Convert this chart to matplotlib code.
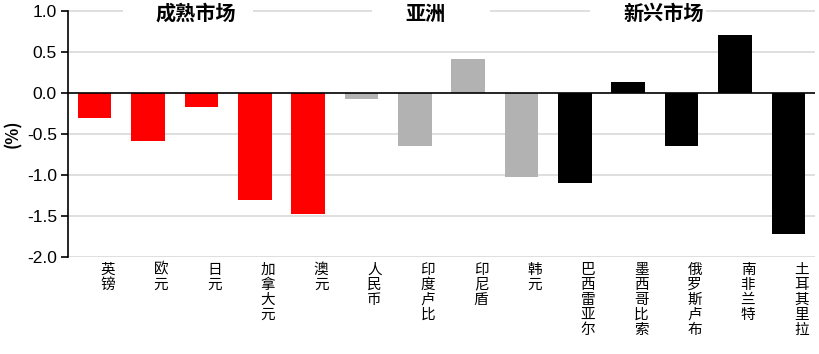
import matplotlib
matplotlib.use("Agg")
import matplotlib.pyplot as plt
import matplotlib.transforms as mtransforms

plt.rcParams['font.family'] = ['Noto Sans CJK SC', 'DejaVu Sans']

categories = ["英镑", "欧元", "日元", "加拿大元", "澳元", "人民币", "印度卢比", "印尼盾",
              "韩元", "巴西雷亚尔", "墨西哥比索", "俄罗斯卢布", "南非兰特", "土耳其里拉"]
values = [-0.30, -0.59, -0.17, -1.31, -1.48, -0.07, -0.65, 0.42,
          -1.02, -1.10, 0.13, -0.65, 0.71, -1.72]
groups = ["成熟", "成熟", "成熟", "成熟", "成熟", "亚洲", "亚洲", "亚洲",
          "亚洲", "新兴", "新兴", "新兴", "新兴", "新兴"]
group_colors = {"成熟": "#FF0000", "亚洲": "#B2B2B2", "新兴": "#000000"}
group_titles = ["成熟市场", "亚洲", "新兴市场"]
group_title_x = [1.9, 6.2, 10.66]
yticks = [1.0, 0.5, 0.0, -0.5, -1.0, -1.5, -2.0]

fig = plt.figure(figsize=(8.2, 3.54), dpi=100)
ax = fig.add_axes([68/820, 1-257/354, (815-68)/820, (257-11)/354])

x = list(range(len(categories)))
colors = [group_colors[g] for g in groups]
ax.bar(x, values, width=0.63, color=colors, zorder=3)

ax.set_xlim(-0.5, len(categories)-0.5)
ax.set_ylim(-2.0, 1.0)

grid_c = "#D9D9D9"
for yv in yticks:
    if yv == 1.0 or yv == 0.0:
        continue
    ax.axhline(yv, color=grid_c, lw=1.2, zorder=1)
# top gridline interrupted by group titles
gaps = [(0.53, 2.97), (5.2, 7.4), (9.29, 11.45)]
segs = []
start = -0.5
for a, b in gaps:
    segs.append((start, a))
    start = b
segs.append((start, 13.5))
for a, b in segs:
    ax.hlines(1.0, a, b, color=grid_c, lw=1.2, zorder=1, clip_on=False)
ax.axhline(0.0, color="black", lw=1.2, zorder=4)

for t, xp in zip(group_titles, group_title_x):
    ax.text(xp, 0.97, t, ha="center", va="center", fontsize=14.5, fontweight="bold",
            zorder=5)

for s in ["top", "right", "bottom"]:
    ax.spines[s].set_visible(False)
ax.spines["left"].set_color("black")
ax.spines["left"].set_linewidth(1.2)

ax.set_yticks(yticks)
ax.set_yticklabels([f"{v:.1f}" for v in yticks], fontsize=12.5, family=['Liberation Sans', 'DejaVu Sans'])
ax.tick_params(axis="y", direction="out", length=5, width=1.2, pad=3)

ax.set_xticks(x)
ax.set_xticklabels(["\n".join(c) for c in categories], fontsize=10.5, linespacing=1.1, va="top")
ax.tick_params(axis="x", length=0, pad=4)
offset = mtransforms.ScaledTranslation(13/100, 0, fig.dpi_scale_trans)
for lbl in ax.get_xticklabels():
    lbl.set_transform(lbl.get_transform() + offset)

ax.set_ylabel("(%)", fontsize=12, fontweight="bold", labelpad=3)

fig.savefig("out.png", dpi=100)
